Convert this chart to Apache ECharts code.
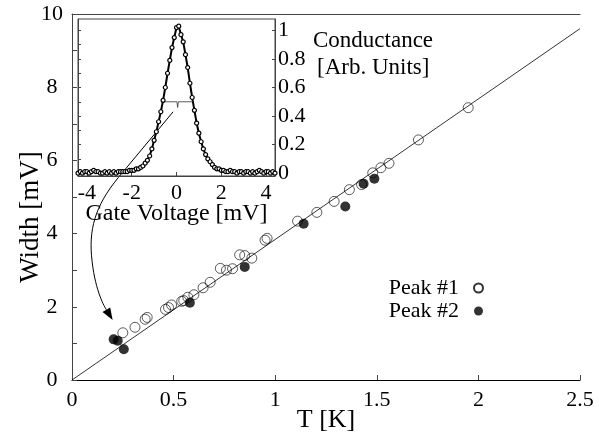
<!DOCTYPE html>
<html>
<head>
<meta charset="utf-8">
<script src="https://cdn.jsdelivr.net/npm/echarts@6/dist/echarts.min.js"></script>
<style>
    html, body { margin: 0; padding: 0; background: #fff; }
    #chart { width: 599px; height: 432px; }
</style>
</head>
<body>
<div id="chart"></div>
<script>
// ------------------------------
// Main plot: peak width vs temperature
// ------------------------------
var peak1T = [0.25, 0.31, 0.36, 0.37, 0.46, 0.475, 0.49, 0.54, 0.55, 0.57, 0.60, 0.645, 0.68, 0.73, 0.76, 0.79,
    0.825, 0.85, 0.885, 0.95, 0.96, 1.11, 1.205, 1.29, 1.365, 1.425, 1.48, 1.52, 1.56, 1.705, 1.95];
var peak1W = [1.29, 1.44, 1.66, 1.71, 1.93, 1.98, 2.05, 2.15, 2.17, 2.26, 2.33, 2.52, 2.67, 3.05, 3.00, 3.04,
    3.42, 3.40, 3.33, 3.82, 3.87, 4.34, 4.58, 4.88, 5.20, 5.34, 5.66, 5.80, 5.92, 6.56, 7.44];
var peak2T = [0.205, 0.225, 0.255, 0.58, 0.85, 1.14, 1.345, 1.435, 1.488];
var peak2W = [1.11, 1.07, 0.84, 2.11, 3.09, 4.27, 4.74, 5.36, 5.50];
var fitT = [0, 2.5];
var fitW = [0, 9.6];
var wTicks = [0, 1, 2, 3, 4, 5, 6, 7, 8, 9, 10];
var wLabels = [0, 2, 4, 6, 8, 10];

// ------------------------------
// Inset: conductance peak vs gate voltage
// ------------------------------
var gateV = [-4.4, -4.3, -4.2, -4.1, -4.0, -3.9, -3.8, -3.7, -3.6, -3.5, -3.4, -3.3, -3.2, -3.1, -3.0,
    -2.9, -2.8, -2.7, -2.6, -2.5, -2.4, -2.3, -2.2, -2.1, -2.0, -1.9, -1.8, -1.7, -1.6, -1.5, -1.4, -1.3,
    -1.2, -1.1, -1.0, -0.9, -0.8, -0.7, -0.6, -0.5, -0.4, -0.3, -0.2, -0.1, 0.0, 0.1, 0.2, 0.3, 0.4, 0.5,
    0.6, 0.7, 0.8, 0.9, 1.0, 1.1, 1.2, 1.3, 1.4, 1.5, 1.6, 1.7, 1.8, 1.9, 2.0, 2.1, 2.2, 2.3, 2.4, 2.5,
    2.6, 2.7, 2.8, 2.9, 3.0, 3.1, 3.2, 3.3, 3.4, 3.5, 3.6, 3.7, 3.8, 3.9, 4.0, 4.1, 4.2, 4.3, 4.4];
var cond = [0.00, 0.01, 0.00, 0.01, 0.01, 0.00, 0.01, 0.02, 0.01, 0.01, 0.00, 0.00, 0.01, 0.00, 0.01,
    0.00, 0.01, 0.00, 0.01, 0.01, 0.01, 0.01, 0.01, 0.02, 0.02, 0.02, 0.03, 0.03, 0.04, 0.05, 0.07, 0.09,
    0.12, 0.17, 0.23, 0.29, 0.36, 0.43, 0.51, 0.60, 0.70, 0.79, 0.88, 0.95, 1.02, 1.03, 0.97, 0.92, 0.83, 0.74,
    0.63, 0.53, 0.44, 0.35, 0.28, 0.22, 0.17, 0.13, 0.10, 0.08, 0.06, 0.04, 0.03, 0.03, 0.02, 0.02, 0.01, 0.01, 0.02, 0.01,
    0.01, 0.00, 0.01, 0.01, 0.00, 0.01, 0.01, 0.00, 0.01, 0.00, 0.01, 0.02, 0.01, 0.00, 0.01, 0.01, 0.00, 0.01, 0.00];
var fwhmV = [-0.62, 0.02, 0.05, 0.08, 0.72];
var fwhmG = [0.5, 0.5, 0.46, 0.5, 0.5];
var gateTicks = [-4, -2, 0, 2, 4];
var condTicks = [0, 0.2, 0.4, 0.6, 0.8, 1];
var condMinor = [0, 0.1, 0.2, 0.3, 0.4, 0.5, 0.6, 0.7, 0.8, 0.9, 1];

var serif = 'Liberation Serif';

function pairs(xs, ys) {
    return xs.map(function (x, i) { return [x, ys[i]]; });
}

var myChart = echarts.init(document.getElementById('chart'));

var frame = { show: true, onZero: false, lineStyle: { color: '#444', width: 1 } };

var option = {
    backgroundColor: '#fff',
    animation: false,
    textStyle: { fontFamily: serif, color: '#000' },
    grid: [
        { left: 72, right: 19, top: 14, bottom: 52, outerBoundsMode: 'none' },
        { left: 78, top: 19, width: 197, height: 157, outerBoundsMode: 'none', show: true, borderColor: '#444', borderWidth: 1 }
    ],
    legend: {
        data: ['Peak #1', 'Peak #2'],
        orient: 'vertical',
        right: 115,
        top: 277,
        align: 'right',
        padding: 0,
        itemGap: 1,
        itemWidth: 9,
        itemHeight: 9,
        textStyle: { fontFamily: serif, fontSize: 22, color: '#000', lineHeight: 22, padding: [0, 10, 0, 0] }
    },
    xAxis: [
        {
            gridIndex: 0, type: 'value', min: 0, max: 2.5, interval: 0.5, position: 'bottom',
            name: 'T [K]', nameLocation: 'middle', nameGap: 27, nameMoveOverlap: false,
            nameTextStyle: { fontFamily: serif, fontSize: 26, color: '#000' },
            axisLine: { show: true, onZero: false, lineStyle: { color: '#000', width: 1 } },
            axisTick: { show: true, inside: true, length: 5, lineStyle: { color: '#444' } },
            axisLabel: { fontFamily: serif, fontSize: 22, color: '#000', margin: 9 },
            splitLine: { show: false }
        },
        {
            gridIndex: 0, type: 'value', min: 0, max: 2.5, position: 'top',
            axisLine: frame, axisTick: { show: false }, axisLabel: { show: false }, splitLine: { show: false }
        },
        {
            gridIndex: 1, type: 'value', min: -4.4, max: 4.4, position: 'bottom',
            name: 'Gate Voltage [mV]', nameLocation: 'middle', nameGap: 26, nameMoveOverlap: false,
            nameTextStyle: { fontFamily: serif, fontSize: 24, color: '#000' },
            axisLine: frame,
            axisTick: { show: true, inside: true, length: 4, customValues: gateTicks, lineStyle: { color: '#444' } },
            axisLabel: { fontFamily: serif, fontSize: 22, color: '#000', margin: 6, customValues: gateTicks },
            splitLine: { show: false }
        }
    ],
    yAxis: [
        {
            gridIndex: 0, type: 'value', min: 0, max: 10, interval: 1,
            name: 'Width [mV]', nameLocation: 'middle', nameGap: 28, nameMoveOverlap: false,
            nameTextStyle: { fontFamily: serif, fontSize: 27, color: '#000', padding: [0, 40, 0, 0] },
            axisLine: frame,
            axisTick: { show: true, inside: true, length: 5, customValues: wTicks, lineStyle: { color: '#444' } },
            axisLabel: { fontFamily: serif, fontSize: 22, color: '#000', margin: 20, align: 'center', customValues: wLabels },
            splitLine: { show: false }
        },
        {
            gridIndex: 1, type: 'value', min: -0.02, max: 1.08, position: 'left',
            axisLine: frame,
            axisTick: { show: true, inside: true, length: 3, customValues: condMinor, lineStyle: { color: '#444' } },
            axisLabel: { show: false },
            splitLine: { show: false }
        },
        {
            gridIndex: 1, type: 'value', min: -0.02, max: 1.08, position: 'right',
            axisLine: frame,
            axisTick: { show: true, inside: true, length: 3, customValues: condTicks, lineStyle: { color: '#444' } },
            axisLabel: { fontFamily: serif, fontSize: 22, color: '#000', margin: 3, customValues: condTicks },
            splitLine: { show: false }
        }
    ],
    graphic: [
        { type: 'text', left: 313, top: 29, style: { text: 'Conductance', font: '23px "Liberation Serif"', fill: '#000' } },
        { type: 'text', left: 317, top: 56, style: { text: '[Arb. Units]', font: '23px "Liberation Serif"', fill: '#000' } }
    ],
    series: [
        {
            name: 'fit', type: 'line', xAxisIndex: 0, yAxisIndex: 0,
            data: pairs(fitT, fitW), showSymbol: false, silent: true,
            lineStyle: { color: '#000', width: 0.8 }
        },
        {
            name: 'Peak #1', type: 'scatter', xAxisIndex: 0, yAxisIndex: 0,
            data: pairs(peak1T, peak1W), symbol: 'circle', symbolSize: 10,
            itemStyle: { color: 'rgba(255,255,255,0)', borderColor: '#000', borderWidth: 0.8 }
        },
        {
            name: 'Peak #2', type: 'scatter', xAxisIndex: 0, yAxisIndex: 0,
            data: pairs(peak2T, peak2W), symbol: 'circle', symbolSize: 10,
            itemStyle: { color: '#000' }
        },
        {
            name: 'conductance', type: 'line', xAxisIndex: 2, yAxisIndex: 2,
            data: pairs(gateV, cond), symbol: 'circle', symbolSize: 4, showAllSymbol: true,
            itemStyle: { color: '#fff', borderColor: '#000', borderWidth: 1.2 },
            lineStyle: { color: '#000', width: 2 }
        },
        {
            name: 'fwhm', type: 'line', xAxisIndex: 2, yAxisIndex: 2,
            data: pairs(fwhmV, fwhmG), showSymbol: false, silent: true,
            lineStyle: { color: '#333', width: 0.8 }
        }
    ]
};

myChart.setOption(option);

// arrow from the inset's half-width marker down to the lowest-T points
var S = myChart.convertToPixel({ xAxisIndex: 2, yAxisIndex: 2 }, [-0.15, 0.43]);
var E = myChart.convertToPixel({ xAxisIndex: 0, yAxisIndex: 0 }, [0.2, 1.64]);
var d = [8 / 15.26, 13 / 15.26];
var n = [-d[1], d[0]];
var base = [E[0] - 12 * d[0], E[1] - 12 * d[1]];
var arrowStyle = { stroke: '#000', fill: null, lineWidth: 1 };

myChart.setOption({
    graphic: option.graphic.concat([
        { type: 'line', shape: { x1: S[0], y1: S[1], x2: S[0] - 55, y2: S[1] + 66 }, style: arrowStyle },
        {
            type: 'bezierCurve', style: arrowStyle,
            shape: { x1: S[0] - 55, y1: S[1] + 66, cpx1: S[0] - 78, cpy1: S[1] + 94, cpx2: S[0] - 85, cpy2: S[1] + 118, x2: S[0] - 81, y2: S[1] + 150 }
        },
        {
            type: 'bezierCurve', style: arrowStyle,
            shape: { x1: S[0] - 81, y1: S[1] + 150, cpx1: E[0] - 17, cpy1: E[1] - 28, cpx2: E[0] - 8, cpy2: E[1] - 13, x2: base[0], y2: base[1] }
        },
        {
            type: 'polygon', style: { fill: '#000' },
            shape: { points: [E, [base[0] + 4.5 * n[0], base[1] + 4.5 * n[1]], [base[0] - 4.5 * n[0], base[1] - 4.5 * n[1]]] }
        }
    ])
});
</script>
</body>
</html>
